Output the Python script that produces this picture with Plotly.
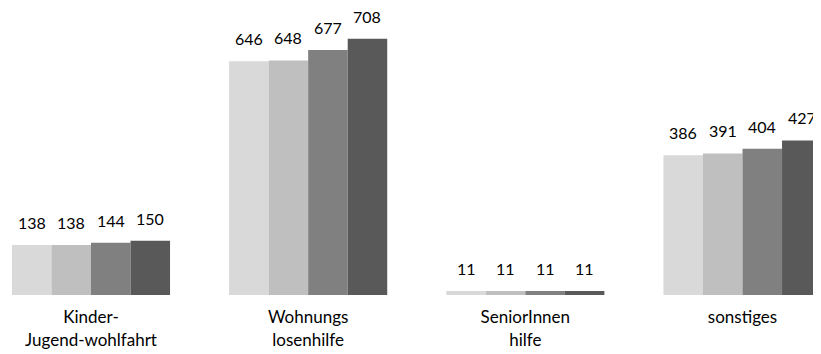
import plotly.graph_objects as go

categories = ["Kinder-<br>Jugend-wohlfahrt", "Wohnungs<br>losenhilfe", "SeniorInnen<br>hilfe", "sonstiges"]
series_names = ["S1", "S2", "S3", "S4"]
series_values = [
    [138, 646, 11, 386],
    [138, 648, 11, 391],
    [144, 677, 11, 404],
    [150, 708, 11, 427],
]
colors = ["#D9D9D9", "#BFBFBF", "#808080", "#595959"]

FONT = "Lato, Carlito, Calibri, sans-serif"
bar_w = 0.182
n = len(series_values)
fig = go.Figure()
annotations = []
for j, (name, vals, col) in enumerate(zip(series_names, series_values, colors)):
    off = (j - (n - 1) / 2) * bar_w
    xs = [i + off for i in range(len(categories))]
    fig.add_trace(go.Bar(
        x=xs, y=vals, width=bar_w, name=name,
        marker=dict(color=col, line=dict(width=0)),
        showlegend=False, hoverinfo="y",
    ))
    for x, v in zip(xs, vals):
        annotations.append(dict(
            x=x, y=v, text=str(v), showarrow=False, yanchor="bottom",
            yshift=11, font=dict(family=FONT, size=16, color="#000000"),
        ))

fig.update_layout(
    width=813, height=346,
    margin=dict(l=0, r=0, t=0, b=59, autoexpand=False),
    plot_bgcolor="white", paper_bgcolor="white",
    barmode="overlay",
    annotations=annotations,
    xaxis=dict(
        range=[-0.3822, 3.3614],
        tickvals=list(range(len(categories))), ticktext=categories,
        showgrid=False, zeroline=False, showline=False,
        ticks="outside", ticklen=7, tickcolor="rgba(0,0,0,0)",
        automargin=False,
        tickfont=dict(family=FONT, size=17, color="#000000"),
        fixedrange=True,
    ),
    yaxis=dict(range=[0, 792.8], visible=False, fixedrange=True, automargin=False),
)
fig.write_html("out.html")
